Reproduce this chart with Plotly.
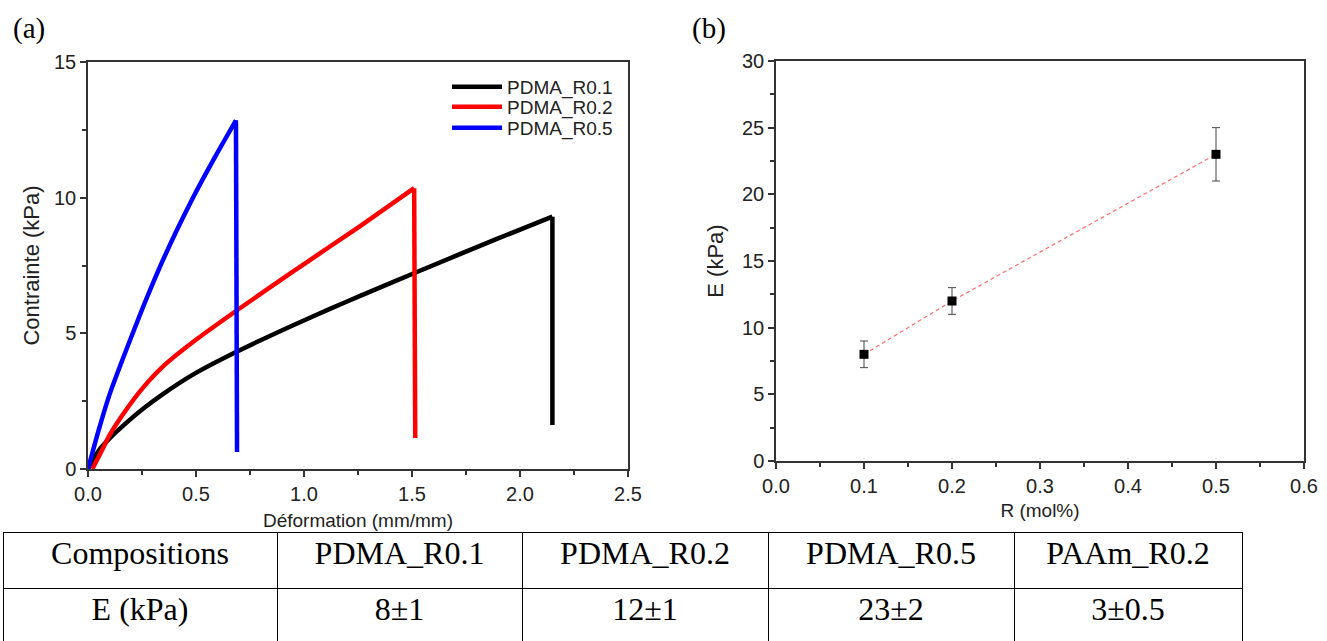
import plotly.graph_objects as go

# ---- Data (a) stress-strain curves (rise, then final drop point) ----
black_x = [0, 0.05, 0.10, 0.18, 0.255, 0.35, 0.486, 0.69, 0.95, 1.12, 1.26, 1.52, 1.89, 2.15, 2.15]
black_y = [0, 0.68, 1.13, 1.72, 2.22, 2.78, 3.48, 4.33, 5.30, 5.90, 6.38, 7.25, 8.47, 9.30, 1.62]
red_x = [0.02, 0.06, 0.10, 0.18, 0.255, 0.35, 0.486, 0.69, 0.95, 1.12, 1.26, 1.51, 1.515]
red_y = [0, 0.62, 1.25, 2.22, 3.00, 3.80, 4.68, 5.85, 7.28, 8.20, 8.95, 10.35, 1.14]
blue_x = [0, 0.05, 0.10, 0.18, 0.255, 0.333, 0.41, 0.486, 0.56, 0.62, 0.685, 0.69]
blue_y = [0, 1.45, 2.75, 4.45, 5.97, 7.45, 8.78, 10.00, 11.10, 11.95, 12.85, 0.63]
series_names = ["PDMA_R0.1", "PDMA_R0.2", "PDMA_R0.5"]

# ---- Data (b) modulus vs R ----
R_vals = [0.1, 0.2, 0.5]
E_vals = [8, 12, 23]
E_err = [1, 1, 2]

# ---- Table ----
table_header = ["Compositions", "PDMA_R0.1", "PDMA_R0.2", "PDMA_R0.5", "PAAm_R0.2"]
table_row = ["E (kPa)", "8±1", "12±1", "23±2", "3±0.5"]
col_widths = [274, 245, 246, 246, 228]

W, H = 1327, 641
def px(x): return x / W
def py(y): return 1 - y / H

fig = go.Figure()
legend_ids = ["legend", "legend2", "legend3"]
for i, (xs, ys, c, n) in enumerate([(black_x, black_y, "black", series_names[0]),
                                    (red_x, red_y, "#ff0000", series_names[1]),
                                    (blue_x, blue_y, "#0000ff", series_names[2])]):
    fig.add_trace(go.Scatter(x=xs[:-1], y=ys[:-1], mode="lines", name=n,
                             line=dict(color=c, width=4.5, shape="spline", smoothing=0.6),
                             legend=legend_ids[i], legendgroup=n, xaxis="x", yaxis="y"))
    fig.add_trace(go.Scatter(x=xs[-2:], y=ys[-2:], mode="lines", name=n,
                             line=dict(color=c, width=4.5), showlegend=False,
                             legendgroup=n, xaxis="x", yaxis="y"))

fig.add_trace(go.Scatter(x=R_vals, y=E_vals, mode="lines",
                         line=dict(color="rgba(255,60,60,0.75)", width=1.2, dash="4px,3px"),
                         showlegend=False, xaxis="x2", yaxis="y2"))
fig.add_trace(go.Scatter(x=R_vals, y=E_vals, mode="markers",
                         marker=dict(symbol="square", size=9, color="black"),
                         error_y=dict(type="data", array=E_err, color="#444", thickness=1, width=4),
                         showlegend=False, xaxis="x2", yaxis="y2"))

fig.add_trace(go.Table(
    domain=dict(x=[px(3), px(1242)], y=[0, py(532)]),
    columnwidth=col_widths,
    header=dict(values=table_header, height=56, align="center",
                line=dict(color="black", width=1), fill=dict(color="white"),
                font=dict(family="Liberation Serif", size=32, color="black")),
    cells=dict(values=[[v] for v in table_row], height=56, align="center",
               line=dict(color="black", width=1), fill=dict(color="white"),
               font=dict(family="Liberation Serif", size=32, color="black")),
))

axis_common = dict(showline=True, linecolor="#333", linewidth=1.5, mirror=True,
                   ticks="outside", ticklen=6, tickwidth=1.5, tickcolor="#333",
                   showgrid=False, zeroline=False,
                   tickfont=dict(family="Arial", size=20, color="#222"),
                   automargin=False)

legend_common = dict(xanchor="left", yanchor="middle", bgcolor="rgba(0,0,0,0)",
                     font=dict(family="Arial", size=19, color="#222"), itemwidth=50)

fig.update_layout(
    width=W, height=H, margin=dict(l=0, r=0, t=0, b=0),
    paper_bgcolor="white", plot_bgcolor="white",
    font=dict(family="Arial", color="#222"),
    xaxis=dict(domain=[px(88), px(628)], range=[0, 2.5], dtick=0.5, tickformat=".1f",
               minor=dict(ticks="outside", ticklen=4, dtick=0.25, tickcolor="#333"),
               title=dict(text="Déformation (mm/mm)", font=dict(size=19), standoff=10),
               anchor="y", **axis_common),
    yaxis=dict(domain=[py(469), py(62)], range=[0, 15], dtick=5,
               minor=dict(ticks="outside", ticklen=4, dtick=2.5, tickcolor="#333"),
               title=dict(text="Contrainte (kPa)", font=dict(size=22), standoff=8),
               anchor="x", **axis_common),
    xaxis2=dict(domain=[px(776), px(1304)], range=[0, 0.6], dtick=0.1, tickformat=".1f",
                minor=dict(ticks="outside", ticklen=4, dtick=0.05, tickcolor="#333"),
                title=dict(text="R (mol%)", font=dict(size=19), standoff=8),
                anchor="y2", **axis_common),
    yaxis2=dict(domain=[py(461), py(61)], range=[0, 30], dtick=5,
                minor=dict(ticks="outside", ticklen=4, dtick=2.5, tickcolor="#333"),
                title=dict(text="E (kPa)", font=dict(size=22), standoff=12),
                anchor="x2", **axis_common),
    legend=dict(x=px(447), y=py(87), **legend_common),
    legend2=dict(x=px(447), y=py(107), **legend_common),
    legend3=dict(x=px(447), y=py(128), **legend_common),
    annotations=[
        dict(text="(a)", x=px(11), y=py(28), xref="paper", yref="paper", xanchor="left",
             yanchor="middle", showarrow=False,
             font=dict(family="Liberation Serif", size=29, color="black")),
        dict(text="(b)", x=px(690), y=py(28), xref="paper", yref="paper", xanchor="left",
             yanchor="middle", showarrow=False,
             font=dict(family="Liberation Serif", size=29, color="black")),
    ],
)

fig.write_html("out.html")
